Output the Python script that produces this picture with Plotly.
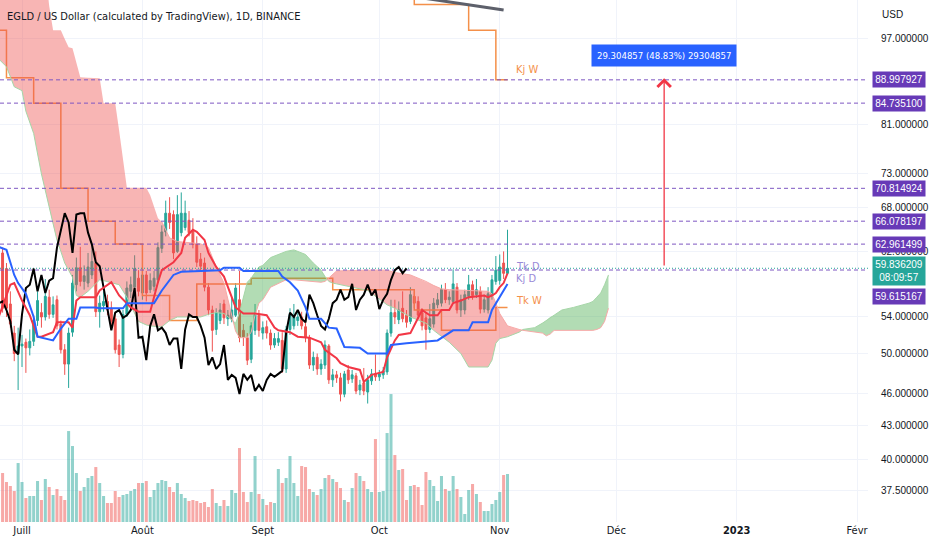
import numpy as np
import pandas as pd
import plotly.graph_objects as go

# EGLD / USD daily candles, 2022-06-26 .. 2022-11-03
first_day = "2022-06-26"
opens = [61.8, 59.8, 55.5, 52.2, 50.0, 50.8, 51.2, 50.6, 51.3, 53.6,
         54.5, 54.0, 56.3, 54.3, 56.0, 53.2, 50.4, 48.9, 52.3, 57.8,
         59.9, 58.2, 58.0, 59.0, 60.5, 54.6, 55.3, 55.8, 55.0, 53.8,
         50.9, 49.9, 54.3, 57.0, 57.5, 58.6, 56.8, 59.0, 57.2, 57.6,
         58.4, 62.4, 64.6, 67.2, 67.0, 62.0, 64.5, 65.2, 66.2, 64.8,
         63.0, 61.0, 60.5, 57.5, 54.8, 52.6, 53.6, 55.5, 53.8, 53.8,
         54.2, 56.0, 52.5, 51.7, 49.4, 52.5, 54.2, 52.2, 52.9, 52.2,
         50.9, 51.2, 51.4, 48.4, 52.6, 53.0, 53.6, 54.0, 52.9, 51.7,
         48.8, 49.6, 48.4, 48.8, 50.8, 47.3, 47.8, 47.5, 45.9, 48.3,
         47.4, 47.7, 46.3, 47.0, 46.1, 47.2, 47.9, 47.6, 47.8, 48.1,
         52.2, 54.5, 53.7, 55.0, 54.2, 53.5, 56.4, 55.8, 54.5, 53.9,
         52.6, 53.2, 55.4, 55.6, 57.2, 56.0, 55.8, 57.5, 54.8, 54.8,
         56.4, 57.8, 56.6, 57.0, 54.9, 54.8, 56.5, 58.2, 58.3, 60.5,
         59.2]
highs = [62.5, 60.5, 57.0, 53.0, 52.8, 52.0, 51.6, 52.6, 54.2, 57.0,
         55.6, 58.5, 57.2, 56.4, 56.5, 53.6, 51.0, 52.8, 59.0, 61.2,
         62.6, 60.2, 61.8, 62.8, 62.0, 56.5, 57.0, 56.6, 55.8, 54.3,
         51.5, 54.8, 58.2, 58.8, 61.5, 59.6, 59.8, 59.5, 59.2, 59.5,
         63.2, 65.5, 69.0, 69.5, 67.6, 69.8, 70.2, 69.0, 67.5, 66.5,
         64.0, 61.8, 61.2, 58.0, 55.3, 55.0, 55.6, 56.0, 54.8, 56.2,
         58.0, 59.5, 53.2, 52.2, 53.4, 55.5, 54.8, 53.5, 53.6, 52.6,
         52.2, 52.3, 52.3, 53.0, 55.0, 55.5, 54.8, 54.6, 53.4, 52.0,
         50.2, 50.0, 49.4, 51.4, 51.0, 48.4, 48.2, 48.0, 48.2, 48.8,
         48.3, 48.0, 47.3, 48.5, 47.8, 48.4, 49.9, 48.3, 48.6, 52.6,
         56.0, 56.0, 55.8, 57.0, 54.8, 57.5, 57.0, 56.4, 55.0, 54.5,
         55.5, 56.2, 56.8, 57.8, 58.0, 57.0, 59.7, 58.0, 56.6, 57.2,
         59.0, 58.3, 58.5, 57.6, 56.6, 57.5, 59.0, 61.4, 61.6, 62.0,
         64.9]
lows = [54.5, 54.0, 52.8, 49.2, 46.3, 48.6, 48.0, 49.8, 50.8, 53.0,
        52.8, 53.6, 53.8, 53.9, 52.6, 50.0, 47.8, 46.5, 51.8, 57.0,
        57.6, 57.2, 57.5, 58.5, 54.0, 52.8, 54.6, 54.2, 52.6, 50.0,
        48.6, 49.5, 54.0, 56.2, 57.0, 56.4, 56.0, 55.8, 56.8, 57.0,
        58.0, 61.8, 64.0, 65.0, 61.0, 61.8, 64.0, 64.8, 64.0, 62.4,
        60.0, 59.4, 57.0, 54.2, 50.2, 52.0, 53.2, 53.2, 53.0, 53.4,
        54.0, 51.2, 50.8, 48.8, 49.0, 52.0, 51.8, 51.5, 51.6, 50.4,
        50.6, 50.8, 48.0, 48.0, 52.0, 52.6, 53.0, 52.6, 51.2, 48.4,
        48.2, 47.8, 47.8, 48.4, 46.9, 46.6, 47.0, 45.2, 45.6, 46.9,
        47.0, 45.9, 45.8, 45.8, 45.0, 46.8, 47.2, 47.2, 47.4, 47.8,
        51.8, 53.2, 53.2, 53.4, 52.8, 53.2, 55.0, 53.8, 52.5, 50.4,
        52.2, 52.8, 55.0, 55.2, 55.6, 55.4, 55.5, 54.4, 54.0, 54.3,
        56.0, 56.0, 56.2, 54.4, 54.5, 54.4, 56.0, 57.8, 57.8, 58.5,
        59.0]
closes = [55.0, 55.0, 53.2, 50.0, 50.8, 51.0, 50.6, 51.3, 53.6, 55.9,
          54.0, 56.4, 54.3, 55.4, 53.0, 50.4, 48.9, 52.2, 58.0, 59.9,
          58.2, 58.9, 60.0, 60.7, 54.6, 55.6, 55.8, 54.8, 53.5, 50.4,
          49.9, 54.3, 57.4, 57.8, 59.8, 57.0, 59.0, 56.8, 58.3, 58.6,
          62.5, 64.6, 67.2, 65.9, 61.8, 67.0, 67.2, 67.2, 64.5, 62.9,
          60.6, 60.1, 57.5, 54.8, 52.5, 54.5, 54.8, 53.9, 54.2, 54.8,
          57.4, 51.7, 51.8, 49.3, 53.0, 54.3, 52.5, 52.8, 52.2, 50.9,
          51.6, 51.6, 48.4, 52.6, 54.3, 54.0, 54.0, 53.0, 51.7, 48.8,
          49.6, 48.4, 48.9, 50.9, 47.3, 47.8, 47.5, 45.9, 47.9, 47.3,
          47.8, 46.2, 46.8, 46.2, 47.3, 47.9, 47.6, 47.9, 48.2, 52.2,
          54.5, 54.0, 54.8, 53.8, 53.4, 56.6, 55.6, 54.2, 53.0, 52.6,
          53.8, 55.6, 56.0, 57.2, 56.0, 56.3, 57.9, 54.8, 56.0, 56.6,
          57.8, 56.5, 57.2, 54.9, 56.0, 56.7, 58.4, 59.6, 60.0, 59.2,
          59.836209]
volume_k = [49, 40, 36, 31, 59, 40, 24, 26, 26, 41,
            22, 43, 35, 27, 33, 26, 22, 91, 76, 49,
            31, 35, 44, 46, 55, 39, 26, 19, 19, 31,
            25, 27, 28, 31, 33, 39, 39, 41, 25, 32,
            39, 42, 41, 35, 30, 39, 28, 24, 21, 22,
            21, 19, 20, 15, 33, 19, 16, 22, 16, 32,
            29, 74, 30, 20, 30, 66, 28, 23, 17, 20,
            19, 53, 39, 44, 66, 39, 26, 56, 55, 33,
            30, 27, 33, 44, 47, 43, 40, 34, 22, 20,
            34, 49, 46, 41, 33, 30, 83, 30, 31, 89,
            128, 67, 52, 53, 22, 36, 37, 35, 17, 50,
            42, 36, 21, 46, 33, 31, 46, 33, 25, 8,
            32, 38, 28, 20, 11, 11, 18, 22, 30, 47,
            48]
chikou_shift_days = 26

# daily Ichimoku lines
tenkan_dates = ["2022-06-25", "2022-06-28", "2022-06-29", "2022-07-01", "2022-07-03", "2022-07-05",
                "2022-07-06", "2022-07-09", "2022-07-10", "2022-07-13", "2022-07-14", "2022-07-15",
                "2022-07-16", "2022-07-20", "2022-07-21", "2022-07-24", "2022-07-26", "2022-07-28",
                "2022-07-29", "2022-07-31", "2022-08-03", "2022-08-05", "2022-08-06", "2022-08-09",
                "2022-08-11", "2022-08-12", "2022-08-14", "2022-08-15", "2022-08-17", "2022-08-18",
                "2022-08-20", "2022-08-22", "2022-08-23", "2022-08-24", "2022-08-25", "2022-08-27",
                "2022-08-30", "2022-09-02", "2022-09-04", "2022-09-05", "2022-09-08", "2022-09-10",
                "2022-09-13", "2022-09-16", "2022-09-17", "2022-09-20", "2022-09-21", "2022-09-23",
                "2022-09-26", "2022-09-27", "2022-09-29", "2022-10-02", "2022-10-03", "2022-10-05",
                "2022-10-06", "2022-10-09", "2022-10-10", "2022-10-12", "2022-10-14", "2022-10-16",
                "2022-10-17", "2022-10-19", "2022-10-20", "2022-10-22", "2022-10-24", "2022-10-28",
                "2022-10-29", "2022-10-30", "2022-10-31", "2022-11-01", "2022-11-02", "2022-11-03"]
tenkan_vals = [54.0, 57.8, 58.0, 55.9, 54.2, 51.8,
               51.8, 52.3, 53.4, 53.4, 52.8, 55.9,
               56.3, 56.3, 57.1, 58.1, 56.5, 55.6,
               55.1, 54.6, 54.6, 58.1, 59.6, 60.6,
               61.8, 63.8, 64.9, 64.6, 63.5, 61.8,
               60.0, 58.8, 57.5, 56.3, 55.1, 54.4,
               54.4, 54.2, 52.8, 52.5, 52.3, 51.8,
               51.7, 51.2, 50.4, 49.5, 49.0, 48.6,
               48.3, 47.1, 47.8, 48.1, 49.6, 51.4,
               52.0, 52.2, 53.0, 54.8, 54.2, 54.2,
               54.8, 54.8, 55.6, 55.9, 56.3, 56.5,
               56.3, 56.5, 56.8, 57.5, 58.0, 59.2]
kijun_dates = ["2022-06-25", "2022-06-27", "2022-06-29", "2022-06-30", "2022-07-02", "2022-07-04",
               "2022-07-05", "2022-07-09", "2022-07-11", "2022-07-13", "2022-07-15", "2022-07-16",
               "2022-07-20", "2022-07-21", "2022-07-27", "2022-07-28", "2022-08-04", "2022-08-06",
               "2022-08-09", "2022-08-11", "2022-08-21", "2022-08-22", "2022-08-26", "2022-08-27",
               "2022-09-05", "2022-09-06", "2022-09-08", "2022-09-10", "2022-09-12", "2022-09-13",
               "2022-09-16", "2022-09-18", "2022-09-20", "2022-09-22", "2022-09-26", "2022-09-28",
               "2022-10-03", "2022-10-04", "2022-10-08", "2022-10-16", "2022-10-20", "2022-10-24",
               "2022-10-25", "2022-10-29", "2022-10-30", "2022-10-31", "2022-11-02", "2022-11-03"]
kijun_vals = [62.6, 62.2, 59.0, 58.0, 56.7, 54.0,
              51.8, 51.4, 52.7, 53.8, 53.8, 55.1,
              55.1, 55.0, 55.0, 55.6, 55.6, 57.1,
              59.0, 59.4, 59.6, 59.9, 59.9, 59.5,
              59.5, 58.8, 58.1, 57.1, 55.1, 53.8,
              53.8, 52.8, 52.7, 50.7, 50.6, 50.0,
              50.0, 50.9, 51.1, 51.4, 52.5, 52.5,
              53.4, 53.4, 54.8, 55.6, 57.1, 57.9]

# daily cloud (leading spans, already shifted forward)
dcloud_dates = ["2022-08-06", "2022-08-08", "2022-08-10", "2022-08-16", "2022-08-18", "2022-08-20",
                "2022-08-22", "2022-08-23", "2022-08-24", "2022-08-25", "2022-08-26", "2022-08-28",
                "2022-08-29", "2022-08-30", "2022-08-31", "2022-09-01", "2022-09-03", "2022-09-07",
                "2022-09-09", "2022-09-12", "2022-09-14", "2022-09-16", "2022-09-17", "2022-09-18",
                "2022-09-19", "2022-09-20", "2022-09-28", "2022-10-03", "2022-10-05", "2022-10-09",
                "2022-10-12", "2022-10-13", "2022-10-15", "2022-10-17", "2022-10-19", "2022-10-22",
                "2022-10-24", "2022-10-29", "2022-10-30", "2022-10-31", "2022-11-01", "2022-11-03",
                "2022-11-05", "2022-11-06", "2022-11-07", "2022-11-10", "2022-11-12", "2022-11-13",
                "2022-11-14", "2022-11-15", "2022-11-17", "2022-11-20", "2022-11-24", "2022-11-25",
                "2022-11-26", "2022-11-27", "2022-11-28", "2022-11-29"]
senkou_a = [52.9, 53.6, 54.0, 54.0, 54.3, 54.5, 54.4, 54.0, 53.6, 53.3,
            54.5, 58.1, 58.6, 59.3, 60.0, 60.2, 61.2, 62.0, 62.2, 61.6,
            60.5, 59.6, 58.8, 58.2, 58.0, 57.9, 57.1, 55.4, 55.0, 54.0,
            53.5, 53.3, 52.5, 51.8, 51.2, 50.0, 48.6, 48.6, 49.3, 51.1,
            51.6, 51.8, 52.1, 52.3, 52.6, 52.8, 53.3, 53.6, 54.0, 54.2,
            54.8, 55.1, 55.6, 55.8, 56.3, 56.8, 57.8, 59.0]
senkou_b = [66.0, 63.8, 63.3, 63.0, 62.5, 60.0, 58.0, 56.0, 54.2, 52.4,
            51.7, 51.7, 52.3, 54.2, 55.6, 56.0, 57.5, 58.4, 58.4, 58.3,
            58.2, 58.1, 58.2, 58.6, 59.1, 59.5, 59.6, 59.6, 59.3, 59.0,
            58.4, 58.2, 57.7, 57.3, 57.2, 57.1, 57.1, 57.0, 56.7, 55.6,
            54.4, 53.0, 52.7, 52.6, 52.5, 52.3, 52.2, 51.9, 52.1, 52.5,
            52.5, 52.5, 52.5, 52.5, 52.6, 52.8, 53.5, 55.0]

# weekly cloud (bearish, upper edge runs off the top early on)
wcloud_dates = ["2022-06-25", "2022-06-27", "2022-06-29", "2022-07-01", "2022-07-02", "2022-07-04",
                "2022-07-06", "2022-07-07", "2022-07-08", "2022-07-09", "2022-07-10", "2022-07-11",
                "2022-07-12", "2022-07-13", "2022-07-14", "2022-07-15", "2022-07-16", "2022-07-18",
                "2022-07-21", "2022-07-22", "2022-07-25", "2022-07-26", "2022-07-28", "2022-07-30",
                "2022-07-31", "2022-08-02", "2022-08-03", "2022-08-05", "2022-08-06"]
wcloud_top = [112, 112, 112, 112, 112, 112, 112, 112, 104.0, 98.8,
              98.8, 98.8, 97.0, 95.3, 95.1, 92.0, 89.5, 89.4, 89.3, 84.7,
              84.7, 80.0, 70.9, 70.9, 70.9, 70.9, 69.8, 66.5, 66.0]
wcloud_bot = [93.0, 91.5, 87.7, 87.0, 83.3, 79.5, 73.0, 70.5, 67.8, 65.6,
              63.5, 62.0, 60.5, 59.6, 58.7, 56.5, 56.3, 57.0, 58.4, 58.3,
              57.9, 57.8, 56.3, 54.4, 53.5, 53.1, 53.0, 52.9, 52.9]

# weekly tenkan / kijun (change on Mondays)
tkw_dates = ["2022-06-20", "2022-06-27", "2022-07-04", "2022-07-11", "2022-07-18", "2022-07-25",
             "2022-08-01", "2022-08-08", "2022-08-15", "2022-08-29", "2022-09-19", "2022-10-10",
             "2022-10-17", "2022-10-31", "2022-11-03"]
tkw_vals = [98.8, 89.4, 84.7351, 70.814924, 66.078197, 62.961499,
            56.5, 53.6, 57.9, 58.6, 57.2, 54.8,
            52.5, 55.1, 55.1]
kjw_dates = ["2022-10-03", "2022-10-10", "2022-10-24", "2022-10-31", "2022-11-03"]
kjw_vals = [112, 104.3, 98.8, 88.997927, 88.997927]

# drawings
levels = [88.997927, 84.735100, 70.814924, 66.078197, 62.961499, 59.615167]
last_price = 59.836209
countdown = "08:09:57"
trend_dates = ["2022-10-01", "2022-11-02"]
trend_vals = [107.2, 103.1]
measure_day = "2022-12-13 08:00"
measure_from = 60.01
measure_to = 89.31
measure_text = "29.304857 (48.83%) 29304857"

month_ticks = ["2022-07-01", "2022-08-01", "2022-09-01", "2022-10-01", "2022-11-01",
               "2022-12-01", "2023-01-01", "2023-02-01"]
month_labels = ["Juill", "Août", "Sept", "Oct", "Nov", "Déc", "<b>2023</b>", "Févr"]
price_ticks = [37.5, 40, 43, 46, 50, 54, 62, 68, 73, 81, 97]

x_left = "2022-06-25 08:00"
x_right = "2023-02-03 19:40"
price_min, price_max = 35.06, 105.3

UP = "#26a69a"
DOWN = "#ef5350"
FONT = "DejaVu Sans Condensed, Liberation Sans, sans-serif"
NUM_FONT = "Liberation Sans, Arial, sans-serif"
ORANGE = "#f4904a"
LEVEL = "#7e57c2"
LEVEL_BG = "#673ab7"
RED_FILL = "rgba(239,83,80,0.43)"
GREEN_FILL = "rgba(76,175,80,0.43)"

assert len(opens) == len(highs) == len(lows) == len(closes) == len(volume_k)
days = pd.date_range(first_day, periods=len(closes), freq="D")


def cloud_pieces(dates, a, b):
    t = list(pd.to_datetime(dates))
    pieces = []
    xs, ya, yb = [t[0]], [a[0]], [b[0]]
    for i in range(1, len(t)):
        s0, s1 = a[i - 1] - b[i - 1], a[i] - b[i]
        if s0 * s1 < 0:
            f = s0 / (s0 - s1)
            tc = t[i - 1] + (t[i] - t[i - 1]) * f
            vc = a[i - 1] + (a[i] - a[i - 1]) * f
            xs.append(tc); ya.append(vc); yb.append(vc)
            pieces.append((xs, ya, yb, s0 > 0))
            xs, ya, yb = [tc], [vc], [vc]
        xs.append(t[i]); ya.append(a[i]); yb.append(b[i])
    pieces.append((xs, ya, yb, a[-1] > b[-1]))
    return pieces


fig = go.Figure()

# volume on the hidden base axis
vol_colors = ["rgba(38,166,154,0.5)" if c >= o else "rgba(239,83,80,0.5)" for o, c in zip(opens, closes)]
fig.add_trace(go.Bar(x=days, y=volume_k, marker=dict(color=vol_colors, line=dict(width=0)),
                     width=0.78 * 86400000, yaxis="y", hoverinfo="skip"))

# weekly lines (under the cloud fills, like on TradingView)
fig.add_trace(go.Scatter(x=tkw_dates, y=tkw_vals, mode="lines", line=dict(color=ORANGE, width=1.5, shape="hv"), yaxis="y2"))
fig.add_trace(go.Scatter(x=kjw_dates, y=kjw_vals, mode="lines", line=dict(color=ORANGE, width=1.5, shape="hv"), yaxis="y2"))

# weekly cloud
fig.add_trace(go.Scatter(x=wcloud_dates + wcloud_dates[::-1], y=wcloud_top + wcloud_bot[::-1],
                         fill="toself", fillcolor=RED_FILL, mode="lines", line=dict(width=0), yaxis="y2"))
fig.add_trace(go.Scatter(x=wcloud_dates, y=wcloud_bot, mode="lines", line=dict(color="#a5d6a7", width=1), yaxis="y2"))

# daily cloud
for xs, ya, yb, bull in cloud_pieces(dcloud_dates, senkou_a, senkou_b):
    fig.add_trace(go.Scatter(x=xs + xs[::-1], y=ya + yb[::-1], fill="toself",
                             fillcolor=GREEN_FILL if bull else RED_FILL,
                             mode="lines", line=dict(width=0), yaxis="y2"))
fig.add_trace(go.Scatter(x=dcloud_dates, y=senkou_a, mode="lines", line=dict(color="#a5d6a7", width=1), yaxis="y2"))
fig.add_trace(go.Scatter(x=dcloud_dates, y=senkou_b, mode="lines", line=dict(color="#f7a9a7", width=1), yaxis="y2"))

# horizontal levels + last price line
for lv in levels:
    fig.add_trace(go.Scatter(x=[x_left, x_right], y=[lv, lv], mode="lines",
                             line=dict(color=LEVEL, width=1, dash="4px,3px"), yaxis="y2"))
fig.add_trace(go.Scatter(x=[x_left, x_right], y=[last_price, last_price], mode="lines",
                         line=dict(color=UP, width=1, dash="1px,2px"), yaxis="y2"))

# candles
fig.add_trace(go.Candlestick(x=days, open=opens, high=highs, low=lows, close=closes,
                             increasing=dict(line=dict(color=UP, width=1), fillcolor=UP),
                             decreasing=dict(line=dict(color=DOWN, width=1), fillcolor=DOWN),
                             whiskerwidth=0, yaxis="y2", hoverinfo="skip"))

# lagging span, tenkan, kijun
fig.add_trace(go.Scatter(x=days - pd.Timedelta(days=chikou_shift_days), y=closes, mode="lines",
                         line=dict(color="#000000", width=2), yaxis="y2"))
fig.add_trace(go.Scatter(x=tenkan_dates, y=tenkan_vals, mode="lines", line=dict(color="#f23645", width=2), yaxis="y2"))
fig.add_trace(go.Scatter(x=kijun_dates, y=kijun_vals, mode="lines", line=dict(color="#2962ff", width=2), yaxis="y2"))

# trend line drawing
fig.add_trace(go.Scatter(x=trend_dates, y=trend_vals, mode="lines", line=dict(color="#5d606b", width=3), yaxis="y2"))

ann = []
ann.append(dict(xref="paper", yref="paper", x=0, y=1, xanchor="left", yanchor="middle", xshift=5, yshift=-16,
                text="EGLD / US Dollar (calculated by TradingView), 1D, BINANCE",
                font=dict(size=11, color="#131722"), showarrow=False))
ann.append(dict(xref="paper", yref="paper", x=1, y=1, xanchor="left", yanchor="middle", xshift=12, yshift=-14,
                text="USD", font=dict(family=NUM_FONT, size=10, color="#131722"), showarrow=False))
for lv in levels:
    ann.append(dict(xref="paper", yref="y2", x=1, y=np.log10(lv), xanchor="left", yanchor="middle", xshift=4,
                    yshift=-26 if lv == levels[-1] else 0, text=f"{lv:.6f}", width=48, borderpad=2,
                    bgcolor=LEVEL_BG, font=dict(family=NUM_FONT, size=10, color="white"), showarrow=False))
ann.append(dict(xref="paper", yref="y2", x=1, y=np.log10(last_price), xanchor="left", yanchor="middle", xshift=4,
                yshift=-3, text=f"{last_price:.6f}<br>{countdown}", width=48, borderpad=2,
                bgcolor=UP, font=dict(family=NUM_FONT, size=10, color="white"), showarrow=False))

label_day = "2022-11-04 16:00"
for txt, val, col, dy in [("Tk D", tenkan_vals[-1], "#9a8ad8", 7), ("Kj D", kijun_vals[-1], "#9a8ad8", 5),
                          ("Tk W", tkw_vals[-1], ORANGE, 7), ("Kj W", kjw_vals[-1], ORANGE, 10)]:
    ann.append(dict(xref="x", yref="y2", x=label_day, y=np.log10(val), xanchor="left", yanchor="middle",
                    yshift=dy, text=txt, font=dict(size=11, color=col), showarrow=False))

ann.append(dict(xref="x", yref="y2", x=measure_day, y=np.log10(measure_to), axref="x", ayref="y2",
                ax=measure_day, ay=np.log10(measure_from), text="", showarrow=True,
                arrowhead=4, arrowsize=2, arrowwidth=1.3, arrowcolor="#f23645"))
ann.append(dict(xref="x", yref="y2", x=measure_day, y=np.log10(measure_to), xanchor="center", yanchor="bottom",
                yshift=11, text=measure_text, bgcolor="#2962ff", borderpad=5,
                font=dict(size=9.5, color="white"), showarrow=False))

fig.update_layout(
    width=932, height=550,
    margin=dict(l=0, r=64, t=0, b=28),
    paper_bgcolor="white", plot_bgcolor="white",
    showlegend=False,
    font=dict(family=FONT, size=11, color="#131722"),
    annotations=ann,
    xaxis=dict(type="date", range=[x_left, x_right], tickvals=month_ticks, ticktext=month_labels,
               showgrid=True, gridcolor="#f0f3fa", zeroline=False, showline=False, ticks="",
               rangeslider=dict(visible=False), tickfont=dict(size=11, color="#131722")),
    yaxis=dict(range=[0, max(volume_k) * 4.08], visible=False, fixedrange=True),
    yaxis2=dict(type="log", overlaying="y", side="right",
                range=[np.log10(price_min), np.log10(price_max)],
                tickvals=price_ticks, ticktext=[f"{v:.6f}" for v in price_ticks],
                showgrid=True, gridcolor="#f0f3fa", zeroline=False, showline=False,
                ticks="outside", ticklen=10, tickcolor="rgba(0,0,0,0)",
                tickfont=dict(family=NUM_FONT, size=10, color="#131722")),
)

# the page body has a default 8px margin; drop it so the chart sits at the window corner
fig.write_html("out.html", config={"displayModeBar": False},
               post_script="document.body.style.margin='0px';")
